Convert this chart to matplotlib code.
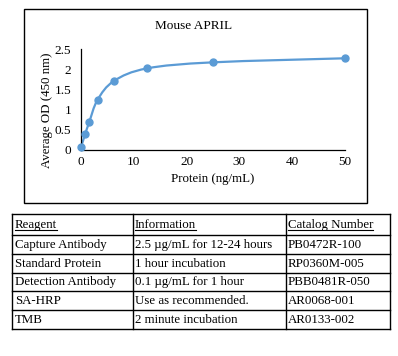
import matplotlib.pyplot as plt
from matplotlib.path import Path
from matplotlib.patches import PathPatch, Rectangle
from matplotlib.lines import Line2D
import numpy as np

plt.rcParams['font.family'] = ['Liberation Serif', 'DejaVu Serif']

# standard curve
protein = [0, 0.78, 1.56, 3.125, 6.25, 12.5, 25, 50]
od = [0.07, 0.39, 0.69, 1.24, 1.71, 2.02, 2.17, 2.27]
xticks = [0, 10, 20, 30, 40, 50]
yticks = [0, 0.5, 1, 1.5, 2, 2.5]
ytick_labels = ['0', '0.5', '1', '1.5', '2', '2.5']

# reagent table
headers = ['Reagent', 'Information', 'Catalog Number']
reagents = ['Capture Antibody', 'Standard Protein', 'Detection Antibody', 'SA-HRP', 'TMB']
info = ['2.5 \u00b5g/mL for 12-24 hours', '1 hour incubation', '0.1 \u00b5g/mL for 1 hour',
        'Use as recommended.', '2 minute incubation']
catalog = ['PB0472R-100', 'RP0360M-005', 'PBB0481R-050', 'AR0068-001', 'AR0133-002']

W, H = 398, 356
fig = plt.figure(figsize=(W / 100, H / 100), dpi=100)
fig.patch.set_facecolor('white')

def fx(px):
    return px / W

def fy(py):
    return 1 - py / H

# chart border
fig.add_artist(Rectangle((fx(23.5), fy(202.5)), fx(366.5) - fx(23.5), fy(8.5) - fy(202.5),
                         transform=fig.transFigure, fill=False, edgecolor='black', lw=1))

ax = fig.add_axes([fx(81), fy(150), fx(345) - fx(81), fy(49) - fy(150)])
ax.set_xlim(0, 50)
ax.set_ylim(0, 2.5)
ax.set_facecolor('none')
for s in ['top', 'right']:
    ax.spines[s].set_visible(False)
ax.spines['left'].set_linewidth(0.9)
ax.spines['bottom'].set_linewidth(0.9)
ax.set_xticks(xticks)
ax.set_yticks(yticks)
ax.set_yticklabels(ytick_labels)
ax.tick_params(length=0, labelsize=9.5)
ax.tick_params(axis='y', pad=7)
ax.tick_params(axis='x', pad=4)

# smoothed line (Bezier through the points)
pts = np.column_stack([protein, od])
n = len(pts)
verts = [pts[0]]
codes = [Path.MOVETO]
for i in range(n - 1):
    p0 = pts[max(i - 1, 0)]
    p1 = pts[i]
    p2 = pts[i + 1]
    p3 = pts[min(i + 2, n - 1)]
    c1 = p1 + (p2 - p0) / 6
    c2 = p2 - (p3 - p1) / 6
    verts += [c1, c2, p2]
    codes += [Path.CURVE4] * 3
blue = '#5B9BD5'
ax.add_patch(PathPatch(Path(verts, codes), fill=False, edgecolor=blue, lw=1.6, clip_on=False))
ax.plot(protein, od, 'o', color=blue, markersize=5, clip_on=False, zorder=3)

fig.text(fx(194), fy(26), 'Mouse APRIL', ha='center', va='center', fontsize=9.5)
fig.text(fx(213), fy(179), 'Protein (ng/mL)', ha='center', va='center', fontsize=9.3)
fig.text(fx(47), fy(110), 'Average OD (450 nm)', ha='center', va='center', rotation=90, fontsize=9.3)

# table
col_x = [12.5, 132.5, 285.5, 389.5]
row_y = [214, 234.7, 253.6, 272.5, 291.4, 310.3, 329]
lw = 1
for x in col_x:
    fig.add_artist(Line2D([fx(x), fx(x)], [fy(row_y[0]), fy(row_y[-1])],
                          transform=fig.transFigure, color='black', lw=lw))
for y in row_y:
    fig.add_artist(Line2D([fx(col_x[0]), fx(col_x[-1])], [fy(y), fy(y)],
                          transform=fig.transFigure, color='black', lw=lw))

header_texts = []
for j, h in enumerate(headers):
    t = fig.text(fx(col_x[j] + 2.5), fy((row_y[0] + row_y[1]) / 2 + 1), h,
                 ha='left', va='center', fontsize=9.3)
    header_texts.append(t)

columns = [reagents, info, catalog]
for j, col in enumerate(columns):
    for i, val in enumerate(col):
        fig.text(fx(col_x[j] + 2.5), fy((row_y[i + 1] + row_y[i + 2]) / 2 + 0.5), val,
                 ha='left', va='center', fontsize=9.3)

# underline headers
fig.canvas.draw()
r = fig.canvas.get_renderer()
for t in header_texts:
    bb = t.get_window_extent(renderer=r)
    yy = bb.y0 + 1.5
    fig.add_artist(Line2D([bb.x0 / W, bb.x1 / W], [yy / H, yy / H],
                          transform=fig.transFigure, color='black', lw=0.8))

fig.savefig('out.png', dpi=100)
